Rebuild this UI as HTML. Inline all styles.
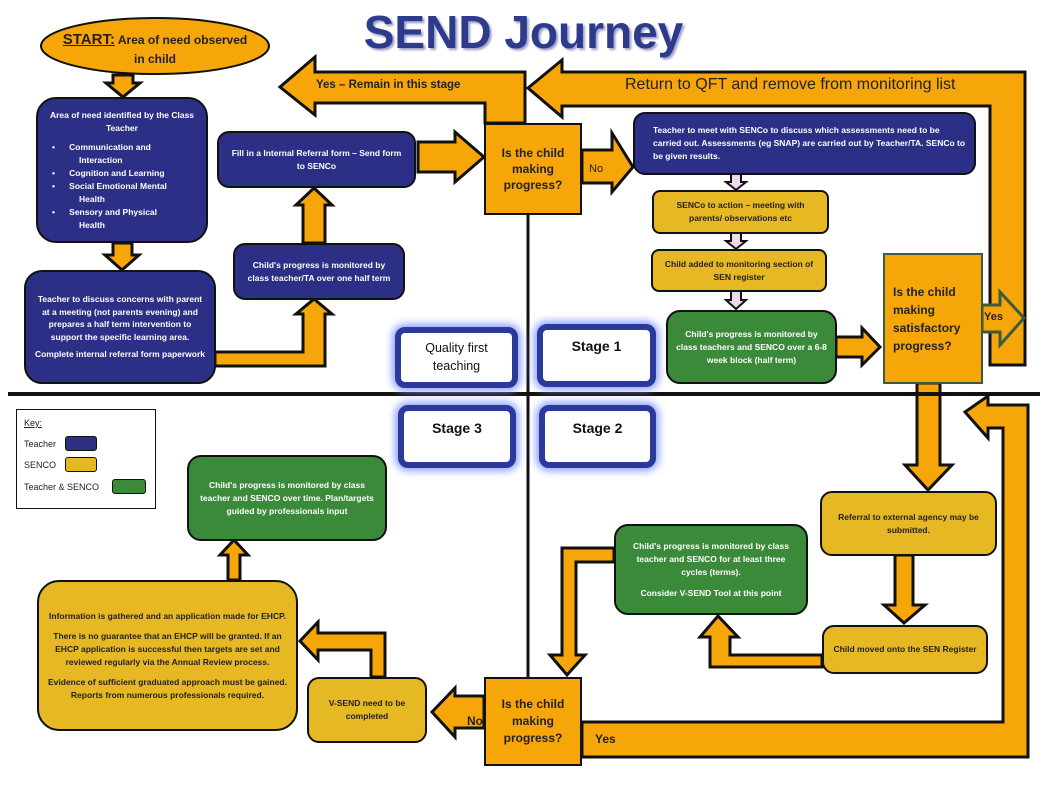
<!DOCTYPE html>
<html><head><meta charset="utf-8"><style>
body{margin:0;width:1047px;height:785px;background:#fff;position:relative;overflow:hidden;font-family:"Liberation Sans",sans-serif}
.b{position:absolute;box-sizing:border-box;border:2px solid #111;border-radius:12px;display:flex;flex-direction:column;justify-content:center;align-items:center;text-align:center;font-weight:bold;font-size:8.5px;line-height:13px;padding:4px 8px}
.t{background:#2b2f86;color:#fff}
.s{background:#e6b823;color:#222}
.g{background:#3b8a3a;color:#fff}
.o{background:#f6a609;color:#222;border-radius:0;font-weight:normal}
.st{position:absolute;box-sizing:border-box;border:6px solid #2b3a9a;border-radius:10px;background:#fff;box-shadow:0 0 8px 3px #8fa0ff;font-size:14px;font-weight:bold;text-align:center;color:#111}
</style></head><body>
<div style="position:absolute;left:0;top:0;width:1047px;text-align:center;font-size:46px;font-weight:bold;color:#2e3a8c;top:5px;padding-left:0;text-shadow:2px 2px 2px #9aa0c8">SEND Journey</div>
<svg width="1047" height="785" style="position:absolute;left:0;top:0">
<g fill="#f6a609" stroke="#111" stroke-width="3" stroke-linejoin="miter">
<polygon points="113,75 133,75 133,83 140,83 123,97 106,83 113,83"/>
<polygon points="113,243 132,243 132,255 139,255 122,270 105,255 113,255"/>
<polygon points="215,352 303,352 303,314 296,314 314,299 332,314 325,314 325,366 215,366"/>
<polygon points="303,243 303,205 296,205 314,188 332,205 325,205 325,243"/>
<polygon points="418,142 455,142 455,132 484,157 455,182 455,172 418,172"/>
<polygon points="525,123 525,72 315,72 315,57 280,87 315,115 315,103 485,103 485,123"/>
<polygon points="582,150 612,150 612,133 633,167 612,192 612,183 582,183"/>
<polygon points="990,300 990,106 562,106 562,117 528,88 562,60 562,72 1025,72 1025,365 990,365"/>
<polygon points="982,305 1000,305 1000,292 1024,318 1000,345 1000,332 982,332" stroke="#3d5a3d"/>
<polygon points="836,337 862,337 862,328 880,347 862,365 862,357 836,357"/>
<polygon points="917,383 940,383 940,465 952,465 928,490 905,465 917,465"/>
<polygon points="895,555 913,555 913,605 925,605 904,623 884,605 895,605"/>
<polygon points="822,655 730,655 730,637 738,637 718,616 700,637 710,637 710,667 822,667"/>
<polygon points="614,548 562,548 562,655 550,655 567,675 585,655 576,655 576,562 614,562"/>
<polygon points="484,696 455,696 455,688 432,712 455,737 455,728 484,728"/>
<polygon points="385,677 385,633 318,633 318,622 300,641 318,660 318,650 371,650 371,677"/>
<polygon points="228,580 228,555 220,555 234,540 248,555 240,555 240,580"/>
<polygon points="582,722 1003,722 1003,428 988,428 988,438 965,412 988,396 988,405 1028,405 1028,757 582,757"/>
</g>
<g fill="#f0d8f0" stroke="#111" stroke-width="2">
<polygon points="731,174 741,174 741,182 746,182 736,190 726,182 731,182"/>
<polygon points="731,233 741,233 741,241 746,241 736,249 726,241 731,241"/>
<polygon points="731,291 741,291 741,300 746,300 736,309 726,300 731,300"/>
</g>
<line x1="8" y1="394" x2="1040" y2="394" stroke="#111" stroke-width="4"/>
<line x1="528" y1="214" x2="528" y2="677" stroke="#111" stroke-width="3"/>
<ellipse cx="155" cy="46" rx="114" ry="28" fill="#f6a609" stroke="#111" stroke-width="2"/>
</svg>
<div style="position:absolute;left:45px;top:30px;width:220px;text-align:center;font-size:12px;font-weight:bold;color:#222;line-height:19px"><span style="font-size:15px;text-decoration:underline">START:</span> Area of need observed<br>in child</div>
<div style="position:absolute;left:316px;top:79px;font-size:11.5px;font-weight:bold;color:#222">Yes – Remain in this stage</div>
<div style="position:absolute;left:625px;top:76px;font-size:16px;color:#222">Return to QFT and remove from monitoring list</div>
<div style="position:absolute;left:589px;top:163px;font-size:11px;color:#222">No</div>
<div style="position:absolute;left:984px;top:311px;font-size:11px;font-weight:bold;color:#222">Yes</div>
<div style="position:absolute;left:467px;top:714px;font-size:12px;font-weight:bold;color:#222">No</div>
<div style="position:absolute;left:595px;top:732px;font-size:12px;font-weight:bold;color:#222">Yes</div>

<div class="b t" style="left:36px;top:97px;width:172px;height:146px;border-radius:20px;align-items:flex-start;text-align:left;padding:6px 10px">
<div style="text-align:center;width:100%">Area of need identified by the Class Teacher</div>
<div style="margin-top:6px;padding-left:4px">•&nbsp;&nbsp;&nbsp;&nbsp;&nbsp;&nbsp;Communication and<br><span style="padding-left:27px">Interaction</span><br>•&nbsp;&nbsp;&nbsp;&nbsp;&nbsp;&nbsp;Cognition and Learning<br>•&nbsp;&nbsp;&nbsp;&nbsp;&nbsp;&nbsp;Social Emotional Mental<br><span style="padding-left:27px">Health</span><br>•&nbsp;&nbsp;&nbsp;&nbsp;&nbsp;&nbsp;Sensory and Physical<br><span style="padding-left:27px">Health</span></div></div>
<div class="b t" style="left:24px;top:270px;width:192px;height:114px;border-radius:18px;line-height:12.5px">Teacher to discuss concerns with parent at a meeting (not parents evening) and prepares a half term intervention to support the specific learning area.<div style="margin-top:5px">Complete internal referral form paperwork</div></div>
<div class="b t" style="left:217px;top:131px;width:199px;height:57px">Fill in a Internal Referral form – Send form to SENCo</div>
<div class="b t" style="left:233px;top:243px;width:172px;height:57px">Child's progress is monitored by class teacher/TA over one half term</div>
<div class="b o" style="left:484px;top:123px;width:98px;height:92px;font-size:12px;line-height:16px;font-weight:bold">Is the child making progress?</div>
<div class="b t" style="left:633px;top:112px;width:343px;height:63px;align-items:flex-start;text-align:left;padding-left:18px">Teacher to meet with SENCo to discuss which assessments need to be carried out. Assessments (eg SNAP) are carried out by Teacher/TA. SENCo to be given results.</div>
<div class="b s" style="left:652px;top:190px;width:177px;height:44px;border-radius:8px">SENCo to action – meeting with parents/ observations etc</div>
<div class="b s" style="left:651px;top:249px;width:176px;height:43px;border-radius:8px">Child added to monitoring section of SEN register</div>
<div class="b g" style="left:666px;top:310px;width:171px;height:74px;border-radius:14px">Child's progress is monitored by class teachers and SENCO over a 6-8 week block (half term)</div>
<div class="b o" style="left:883px;top:253px;width:100px;height:131px;border-color:#3d5a3d;align-items:flex-start;text-align:left;font-size:12px;line-height:18px;font-weight:bold;padding-left:8px">Is the child making satisfactory progress?</div>
<div class="st" style="left:395px;top:327px;width:123px;height:61px;font-weight:normal;font-size:12.5px;padding-top:6px;line-height:18px">Quality first<br>teaching</div>
<div class="st" style="left:537px;top:324px;width:119px;height:63px;padding-top:8px">Stage 1</div>
<div class="st" style="left:398px;top:405px;width:118px;height:63px;padding-top:9px">Stage 3</div>
<div class="st" style="left:539px;top:405px;width:117px;height:63px;padding-top:9px">Stage 2</div>
<div style="position:absolute;left:16px;top:409px;width:140px;height:100px;box-sizing:border-box;border:1px solid #111;font-size:9px;color:#222">
<div style="position:absolute;left:7px;top:8px;text-decoration:underline">Key:</div>
<div style="position:absolute;left:7px;top:29px">Teacher</div><div style="position:absolute;left:48px;top:26px;width:30px;height:13px;background:#2b2f86;border:1px solid #111;border-radius:3px"></div>
<div style="position:absolute;left:7px;top:50px">SENCO</div><div style="position:absolute;left:48px;top:47px;width:30px;height:13px;background:#e6b823;border:1px solid #111;border-radius:3px"></div>
<div style="position:absolute;left:7px;top:72px">Teacher &amp; SENCO</div><div style="position:absolute;left:95px;top:69px;width:32px;height:13px;background:#3b8a3a;border:1px solid #111;border-radius:3px"></div>
</div>
<div class="b g" style="left:187px;top:455px;width:200px;height:86px;border-radius:14px">Child's progress is monitored by class teacher and SENCO over time. Plan/targets guided by professionals input</div>
<div class="b s" style="left:37px;top:580px;width:261px;height:151px;border-radius:22px;line-height:13px">Information is gathered and an application made for EHCP.<div style="margin-top:7px">There is no guarantee that an EHCP will be granted. If an EHCP application is successful then targets are set and reviewed regularly via the Annual Review process.</div><div style="margin-top:7px">Evidence of sufficient graduated approach must be gained. Reports from numerous professionals required.</div></div>
<div class="b s" style="left:307px;top:677px;width:120px;height:66px">V-SEND need to be completed</div>
<div class="b o" style="left:484px;top:677px;width:98px;height:89px;font-size:12px;line-height:17px;font-weight:bold">Is the child making progress?</div>
<div class="b s" style="left:820px;top:491px;width:177px;height:65px">Referral to external agency may be submitted.</div>
<div class="b g" style="left:614px;top:524px;width:194px;height:91px;border-radius:14px">Child's progress is monitored by class teacher and SENCO for at least three cycles (terms).<div style="margin-top:8px">Consider V-SEND Tool at this point</div></div>
<div class="b s" style="left:822px;top:625px;width:166px;height:49px">Child moved onto the SEN Register</div>
</body></html>
